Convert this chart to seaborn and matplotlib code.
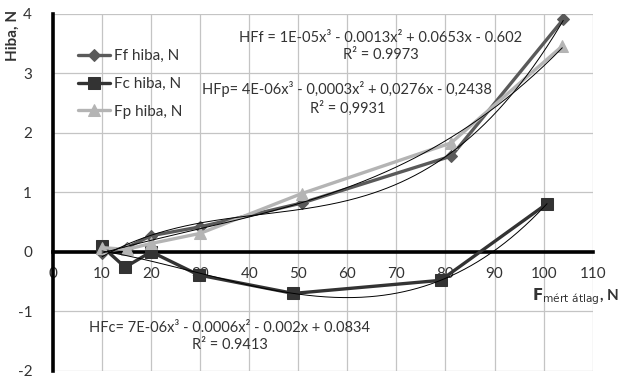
import numpy as np
import pandas as pd
import matplotlib
matplotlib.use('Agg')
import matplotlib.pyplot as plt
import seaborn as sns

# adatok a grafikonról
x_ff = [10, 15, 20, 30, 50.7, 81.2, 104]
y_ff = [-0.02, 0.07, 0.27, 0.42, 0.82, 1.61, 3.91]
x_fc = [10, 14.7, 20, 29.7, 49, 79, 100.7]
y_fc = [0.09, -0.26, 0.0, -0.39, -0.70, -0.48, 0.81]
x_fp = [10, 15, 20, 30, 50.7, 81.1, 103.8]
y_fp = [0.07, 0.04, 0.14, 0.31, 0.98, 1.83, 3.46]

labels = ['Ff hiba, N', 'Fc hiba, N', 'Fp hiba, N']
colors = ['#5a5a5a', '#333333', '#b4b4b4']
markers = ['D', 's', '^']
msizes = [6, 9, 9]

eq_ff = 'HFf = 1E-05x³ - 0.0013x² + 0.0653x - 0.602\nR² = 0.9973'
eq_fp = 'HFp= 4E-06x³ - 0,0003x² + 0,0276x - 0,2438\nR² = 0,9931'
eq_fc = 'HFc= 7E-06x³ - 0.0006x² - 0.002x + 0.0834\nR² = 0.9413'

sns.set_style('white')
plt.rcParams['font.family'] = ['Lato', 'DejaVu Sans']
plt.rcParams['axes.unicode_minus'] = False

fig = plt.figure(figsize=(6.19, 3.78), dpi=100)
ax = fig.add_axes([0.0856, 0.0193, 0.8719, 0.9437])

series = [(x_ff, y_ff), (x_fc, y_fc), (x_fp, y_fp)]
for (xs, ys), lab, c, m, ms in zip(series, labels, colors, markers, msizes):
    df = pd.DataFrame({'x': xs, 'y': ys})
    sns.lineplot(data=df, x='x', y='y', ax=ax, color=c, marker=m, markersize=ms,
                 markeredgecolor=c, linewidth=2.4, label=lab, zorder=3)

# harmadfokú trendvonalak
for xs, ys in series:
    p = np.polyfit(xs, ys, 3)
    xx = np.linspace(min(xs), max(xs), 200)
    ax.plot(xx, np.polyval(p, xx), color='black', linewidth=0.7, zorder=4)

ax.set_xlim(0, 110)
ax.set_ylim(-2, 4)
ax.set_xticks(range(0, 111, 10))
ax.set_yticks(range(-2, 5))
ax.grid(True, color='#c4c4c4', linewidth=0.9)
ax.set_axisbelow(True)

for s in ['top', 'right']:
    ax.spines[s].set_visible(False)
ax.spines['bottom'].set_position(('data', 0))
ax.spines['bottom'].set_linewidth(2.6)
ax.spines['left'].set_linewidth(2.6)
ax.spines['bottom'].set_color('black')
ax.spines['left'].set_color('black')
ax.spines['bottom'].set_zorder(2)
ax.tick_params(axis='both', direction='inout', length=6, width=3, color='black',
               labelsize=11, labelcolor='#333333')
ax.tick_params(axis='x', pad=8)
ax.tick_params(axis='y', pad=12)
ax.set_xlabel('')
ax.set_ylabel('')

ax.text(66.8, 3.45, eq_ff, ha='center', va='center', fontsize=10.5, color='#333333',
        linespacing=1.25)
ax.text(60.0, 2.58, eq_fp, ha='center', va='center', fontsize=10.5, color='#333333',
        linespacing=1.25)
ax.text(36.0, -1.42, eq_fc, ha='center', va='center', fontsize=10.5, color='#333333',
        linespacing=1.25)

fig.text(0.02, 0.905, 'Hiba, N', rotation=90, ha='center', va='center',
         fontsize=11, fontweight='bold', color='#333333')
fig.text(0.999, 0.215, r'$\mathbf{F}_{\mathrm{mért\ átlag}}$' + ', N', ha='right',
         va='center', fontsize=11, fontweight='bold', color='#333333')

ax.legend(loc='upper left', bbox_to_anchor=(0.02, 0.94), frameon=False,
          fontsize=11, handlelength=2.1, labelspacing=0.9, handletextpad=0.3,
          labelcolor='#333333')

fig.savefig('out.png', dpi=100)
